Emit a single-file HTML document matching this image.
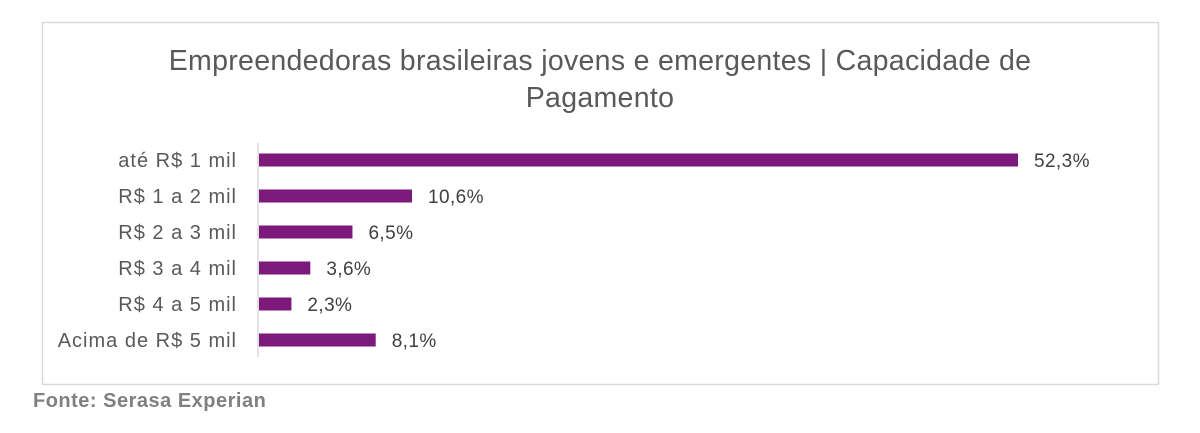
<!DOCTYPE html>
<html><head><meta charset="utf-8"><style>
body{margin:0;background:#fff;width:1200px;height:428px;overflow:hidden;font-family:"Liberation Sans",sans-serif}
</style></head><body>
<svg width="1200" height="428">
<rect x="42.5" y="22.5" width="1116" height="362" fill="#fff" stroke="#d9d9d9" stroke-width="1.5"/>
<text x="600" y="70" text-anchor="middle" font-size="28.5" letter-spacing="0.3" fill="#595959">Empreendedoras brasileiras jovens e emergentes | Capacidade de</text>
<text x="600" y="107" text-anchor="middle" font-size="28.5" letter-spacing="0.3" fill="#595959">Pagamento</text>
<line x1="258" y1="143" x2="258" y2="357" stroke="#d9d9d9" stroke-width="1.5"/>
<g id="bars"></g>
<text x="33" y="407" font-size="20" letter-spacing="0.5" font-weight="bold" fill="#808080">Fonte: Serasa Experian</text>
</svg>
<script>
const categories=["até R$ 1 mil","R$ 1 a 2 mil","R$ 2 a 3 mil","R$ 3 a 4 mil","R$ 4 a 5 mil","Acima de R$ 5 mil"];
const values=[52.3,10.6,6.5,3.6,2.3,8.1];
const valueLabels=["52,3%","10,6%","6,5%","3,6%","2,3%","8,1%"];
const x0=258,scale=(1018-258)/52.3;
function xPos(v){return x0+v*scale;}
function yPos(i){return 160+i*36;}
const g=document.getElementById('bars');
const ns="http://www.w3.org/2000/svg";
categories.forEach((c,i)=>{
  const y=yPos(i);
  const r=document.createElementNS(ns,'rect');
  r.setAttribute('x',x0+1);r.setAttribute('y',y-6.5);
  r.setAttribute('width',xPos(values[i])-x0-1);r.setAttribute('height',13);
  r.setAttribute('fill','#7b1a7a');
  
  
  g.appendChild(r);
  const t=document.createElementNS(ns,'text');
  t.setAttribute('x',237);t.setAttribute('y',y+7);t.setAttribute('text-anchor','end');
  t.setAttribute('font-size','20');t.setAttribute('letter-spacing','1');t.setAttribute('fill','#595959');
  t.textContent=c;
  
  
  g.appendChild(t);
  const v=document.createElementNS(ns,'text');
  v.setAttribute('x',xPos(values[i])+16);v.setAttribute('y',y+7);
  v.setAttribute('font-size','19');v.setAttribute('letter-spacing','0.4');v.setAttribute('fill','#404040');
  v.textContent=valueLabels[i];
  
  
  g.appendChild(v);
});
</script>
</body></html>
